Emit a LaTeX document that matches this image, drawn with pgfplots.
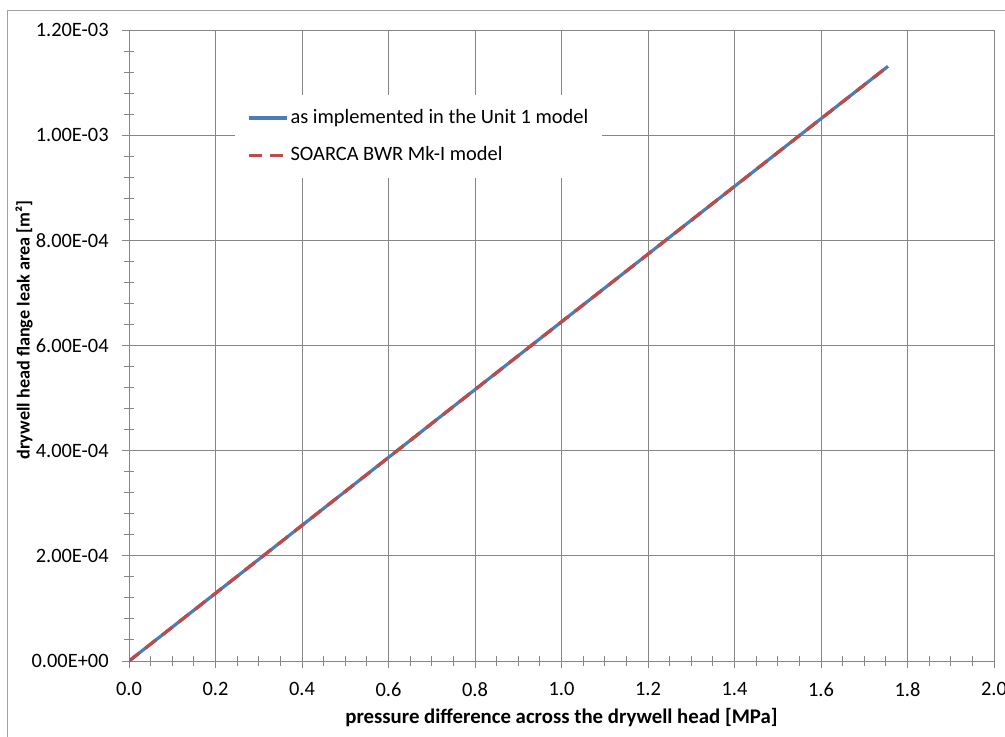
\documentclass[border=0pt]{standalone}
\usepackage{fontspec}
\setmainfont{Carlito}
\usepackage{pgfplots}
\pgfplotsset{compat=1.18}
\definecolor{gridgray}{HTML}{868686}
\definecolor{framegray}{HTML}{A0A0A0}
\definecolor{lblue}{HTML}{4A7EBB}
\definecolor{lred}{HTML}{BE4B48}
\begin{document}
\fontsize{10.2}{12.2}\selectfont
\begin{tikzpicture}
\begin{axis}[
  name=ax, scale only axis, width=432.5pt, height=315.5pt,
  xmin=0, xmax=2, ymin=0, ymax=0.0012,
  xtick={0,0.2,0.4,0.6,0.8,1.0,1.2,1.4,1.6,1.8,2.0},
  xticklabels={0.0,0.2,0.4,0.6,0.8,1.0,1.2,1.4,1.6,1.8,2.0},
  ytick={0,0.0002,0.0004,0.0006,0.0008,0.001,0.0012},
  yticklabels={0.00E+00,2.00E-04,4.00E-04,6.00E-04,8.00E-04,1.00E-03,1.20E-03},
  scaled y ticks=false, scaled x ticks=false,
  minor x tick num=3, minor y tick num=4,
  grid=major, major grid style={gridgray, line width=0.5pt},
  axis line style={gridgray, line width=0.5pt},
  tick style={gridgray, line width=0.5pt},
  tick align=center, major tick length=7pt, minor tick length=5pt,
  xtick pos=left, ytick pos=left,
  xticklabel style={inner sep=0pt, anchor=north, yshift=-7pt},
  yticklabel style={inner sep=0pt, anchor=east, xshift=-6.5pt},
  xlabel={\fontsize{10.4}{12.4}\selectfont\bfseries pressure difference across the drywell head [MPa]},
  ylabel={\fontsize{9.1}{11}\selectfont\bfseries drywell head flange leak area [m²]},
  xlabel style={at={(axis description cs:0.5,-0.0903)}, anchor=center, inner sep=0pt},
  ylabel style={at={(axis description cs:-0.1214,0.5246)}, anchor=center, inner sep=0pt},
  legend style={at={(axis description cs:0.1225,0.897)}, anchor=north west,
    draw=none, fill=white, inner sep=6pt, row sep=8pt, nodes={inner sep=1pt}},
  legend cell align=left,
  legend image code/.code={\draw[#1] (0pt,0pt) -- (19pt,0pt);},
]
\addplot[lblue, line width=1.6pt] coordinates {
  (0,0) (0.25,1.61e-4) (0.5,3.225e-4) (0.75,4.84e-4) (1.0,6.45e-4)
  (1.25,8.06e-4) (1.5,9.67e-4) (1.755,1.131e-3)};
\addlegendentry{as implemented in the Unit 1 model}
\addplot[lred, line width=1.6pt, dash pattern=on 6.5pt off 4pt] coordinates {
  (0,0) (0.25,1.61e-4) (0.5,3.225e-4) (0.75,4.84e-4) (1.0,6.45e-4)
  (1.25,8.06e-4) (1.5,9.67e-4) (1.755,1.131e-3)};
\addlegendentry{SOARCA BWR Mk-I model}
\end{axis}
\draw[framegray, line width=0.5pt] ([shift={(-60.75pt,-60pt)}]ax.south west) rectangle ([shift={(60pt,10pt)}]ax.north east);
\pgfresetboundingbox
\useasboundingbox ([shift={(-64.5pt,-37.5pt)}]ax.south west) rectangle ([shift={(5.5pt,15pt)}]ax.north east);
\end{tikzpicture}
\end{document}
